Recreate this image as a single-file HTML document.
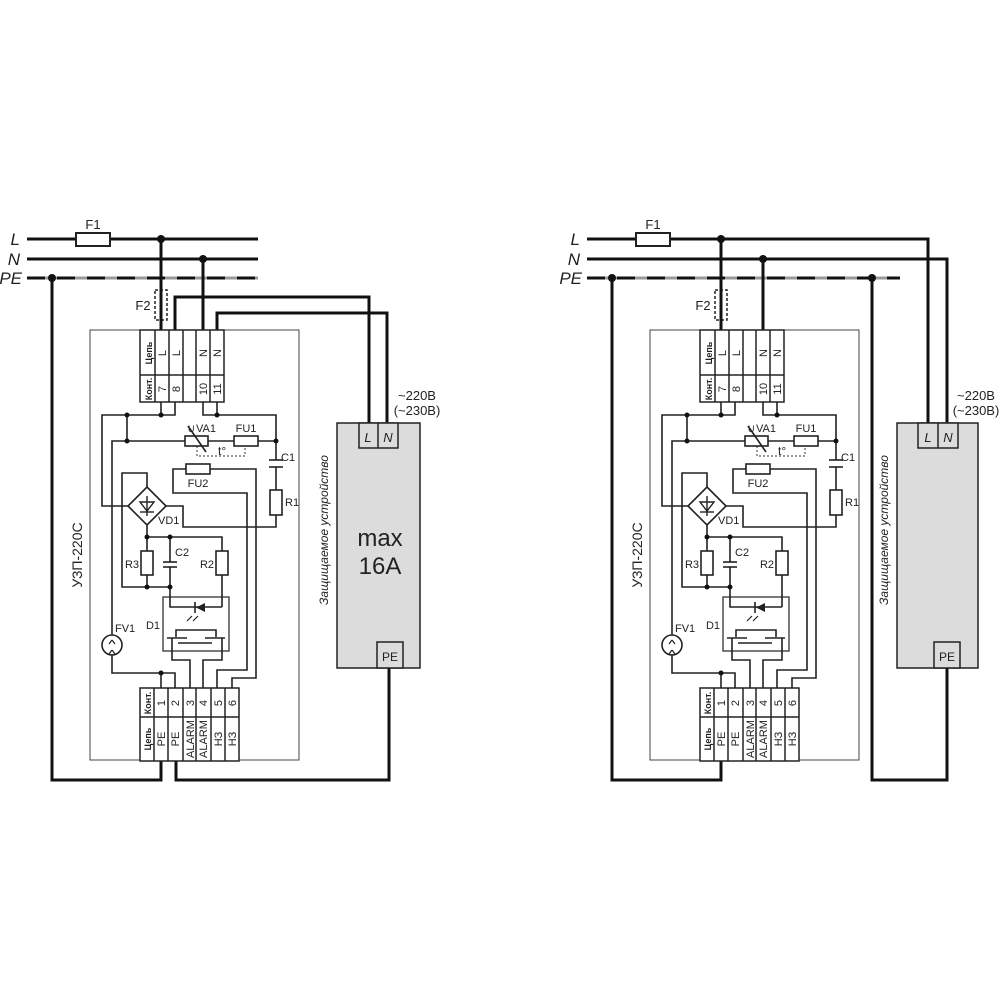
<!DOCTYPE html>
<html><head><meta charset="utf-8"><style>
html,body{margin:0;padding:0;background:#fff}
svg{display:block}
text{font-family:"Liberation Sans",sans-serif;fill:#222}
</style></head><body>
<svg width="1000" height="1000" viewBox="0 0 1000 1000" xmlns="http://www.w3.org/2000/svg">
<defs>
<g id="relay">
  <!-- F1 -->
  <rect x="76" y="233" width="34" height="13" fill="#fff" stroke="#222" stroke-width="2"/>
  <text x="93" y="229" font-size="13" text-anchor="middle">F1</text>
  <!-- F2 -->
  <rect x="155" y="290" width="12" height="30" fill="#fff" stroke="#222" stroke-width="1.5" stroke-dasharray="3,2"/>
  <line x1="161" y1="239" x2="161" y2="330" stroke="#111" stroke-width="3"/>
  <line x1="203" y1="259" x2="203" y2="330" stroke="#111" stroke-width="3"/>
  <circle cx="161" cy="239" r="4" fill="#111"/>
  <circle cx="203" cy="259" r="4" fill="#111"/>
  <text x="143" y="310" font-size="13" text-anchor="middle">F2</text>
  <!-- relay box -->
  <rect x="90" y="330" width="209" height="430" fill="none" stroke="#444" stroke-width="1"/>
  <text transform="translate(82,555) rotate(-90)" font-size="14" text-anchor="middle">УЗП-220С</text>
  <!-- top terminal block -->
  <g fill="none" stroke="#222" stroke-width="1.5">
    <rect x="140" y="330" width="84" height="72" fill="#fff"/>
    <line x1="140" y1="375" x2="224" y2="375"/>
    <line x1="155" y1="330" x2="155" y2="402"/>
    <line x1="169" y1="330" x2="169" y2="402"/>
    <line x1="183" y1="330" x2="183" y2="402"/>
    <line x1="196" y1="330" x2="196" y2="402"/>
    <line x1="210" y1="330" x2="210" y2="402"/>
  </g>
  <g font-size="11">
    <text transform="translate(152,353) rotate(-90)" text-anchor="middle" font-size="9" font-weight="bold">Цепь</text>
    <text transform="translate(152,389) rotate(-90)" text-anchor="middle" font-size="9" font-weight="bold">Конт.</text>
    <text transform="translate(166,353) rotate(-90)" text-anchor="middle">L</text>
    <text transform="translate(180,353) rotate(-90)" text-anchor="middle">L</text>
    <text transform="translate(207,353) rotate(-90)" text-anchor="middle">N</text>
    <text transform="translate(221,353) rotate(-90)" text-anchor="middle">N</text>
    <text transform="translate(166,389) rotate(-90)" text-anchor="middle">7</text>
    <text transform="translate(180,389) rotate(-90)" text-anchor="middle">8</text>
    <text transform="translate(207,389) rotate(-90)" text-anchor="middle">10</text>
    <text transform="translate(221,389) rotate(-90)" text-anchor="middle">11</text>
  </g>
  <!-- bottom terminal block -->
  <g fill="none" stroke="#222" stroke-width="1.5">
    <rect x="140" y="688" width="99" height="73" fill="#fff"/>
    <line x1="140" y1="717" x2="239" y2="717"/>
    <line x1="154" y1="688" x2="154" y2="761"/>
    <line x1="168" y1="688" x2="168" y2="761"/>
    <line x1="183" y1="688" x2="183" y2="761"/>
    <line x1="196" y1="688" x2="196" y2="761"/>
    <line x1="211" y1="688" x2="211" y2="761"/>
    <line x1="225" y1="688" x2="225" y2="761"/>
  </g>
  <g font-size="11">
    <text transform="translate(151,703) rotate(-90)" text-anchor="middle" font-size="9" font-weight="bold">Конт.</text>
    <text transform="translate(151,739) rotate(-90)" text-anchor="middle" font-size="9" font-weight="bold">Цепь</text>
    <text transform="translate(165,703) rotate(-90)" text-anchor="middle">1</text>
    <text transform="translate(179,703) rotate(-90)" text-anchor="middle">2</text>
    <text transform="translate(194,703) rotate(-90)" text-anchor="middle">3</text>
    <text transform="translate(207,703) rotate(-90)" text-anchor="middle">4</text>
    <text transform="translate(222,703) rotate(-90)" text-anchor="middle">5</text>
    <text transform="translate(236,703) rotate(-90)" text-anchor="middle">6</text>
    <text transform="translate(165,739) rotate(-90)" text-anchor="middle">PE</text>
    <text transform="translate(179,739) rotate(-90)" text-anchor="middle">PE</text>
    <text transform="translate(194,739) rotate(-90)" text-anchor="middle">ALARM</text>
    <text transform="translate(207,739) rotate(-90)" text-anchor="middle">ALARM</text>
    <text transform="translate(222,739) rotate(-90)" text-anchor="middle">НЗ</text>
    <text transform="translate(236,739) rotate(-90)" text-anchor="middle">НЗ</text>
  </g>
  <!-- inner circuit -->
  <g fill="none" stroke="#222" stroke-width="1.6">
    <polyline points="161,402 161,415"/>
    <polyline points="175,402 175,415 161,415"/>
    <polyline points="203,402 203,415 276,415 276,460"/>
    <polyline points="217,402 217,415"/>
    <polyline points="161,415 102,415 102,506 128,506"/>
    <polyline points="127,415 127,441"/>
    <polyline points="112,635 112,441 185,441"/>
    <rect x="185" y="436" width="23" height="10"/>
    <line x1="188" y1="426" x2="206" y2="452"/>
    <polyline points="208,441 234,441"/>
    <rect x="234" y="436" width="24" height="10"/>
    <polyline points="258,441 276,441"/>
    <line x1="269" y1="460" x2="283" y2="460"/>
    <line x1="269" y1="467" x2="283" y2="467"/>
    <polyline points="276,467 276,490"/>
    <rect x="270" y="490" width="12" height="25"/>
    <polyline points="276,515 276,527 183,527 183,506 166,506"/>
    <!-- VD1 -->
    <polygon points="147,487 166,506 147,525 128,506"/>
    <polyline points="147,487 147,473 122,473 122,587 170,587"/>
    <polyline points="147,525 147,537 222,537 222,551"/>
    <polyline points="147,537 147,551"/>
    <rect x="141" y="551" width="12" height="24"/>
    <polyline points="147,575 147,587"/>
    <polyline points="170,537 170,562"/>
    <line x1="163" y1="562" x2="177" y2="562"/>
    <line x1="163" y1="567" x2="177" y2="567"/>
    <polyline points="170,567 170,607 222,607"/>
    <rect x="216" y="551" width="12" height="24"/>
    <polyline points="222,575 222,607"/>
    <!-- FU2 -->
    <rect x="186" y="464" width="24" height="10"/>
    <polyline points="186,469 173,469 173,493 247,493 247,670 217,670 217,688"/>
    <polyline points="210,469 256,469 256,678 232,678 232,688"/>
    <!-- D1 -->
    <rect x="163" y="597" width="66" height="54" stroke-width="1.2"/>
    <polyline points="172,651 172,660 190,660 190,688"/>
    <polyline points="222,651 222,660 203,660 203,688"/>
    <polyline points="112,655 112,673 175,673 175,688"/>
    <polyline points="161,673 161,688"/>
    <!-- FV1 -->
    <circle cx="112" cy="645" r="10"/>
    <!-- mosfets -->
    <polyline points="176,637 176,630 216,630 216,637"/>
    <line x1="167" y1="638" x2="187" y2="638"/>
    <line x1="205" y1="638" x2="225" y2="638"/>
    <polyline points="172,638 172,651"/>
    <polyline points="222,638 222,651"/>
    <polyline points="178,643 212,643"/>
  </g>
  <polygon points="205,603 205,612 196,607.5" fill="#222"/>
  <line x1="195" y1="602" x2="195" y2="613" stroke="#222" stroke-width="1.6"/>
  <polygon points="140,502 154,502 147,511" fill="#fff" stroke="#222" stroke-width="1.4"/>
  <line x1="140" y1="512" x2="154" y2="512" stroke="#222" stroke-width="1.4"/>
  <line x1="147" y1="496" x2="147" y2="516" stroke="#222" stroke-width="1.4"/>
  <path d="M192 616 l-5 5 M198 616 l-5 5" stroke="#222" stroke-width="1.2"/>
  <path d="M112 640 l-3 4 M112 640 l3 4 M112 650 l-3 4 M112 650 l3 4" stroke="#222" stroke-width="1.2" fill="none"/>
  <polyline points="197,446 197,456 245,456 245,446" fill="none" stroke="#333" stroke-width="1" stroke-dasharray="2,2"/>
  <g fill="#111">
    <circle cx="161" cy="415" r="2.5"/><circle cx="127" cy="415" r="2.5"/><circle cx="217" cy="415" r="2.5"/>
    <circle cx="127" cy="441" r="2.5"/><circle cx="276" cy="441" r="2.5"/>
    <circle cx="147" cy="537" r="2.5"/><circle cx="170" cy="537" r="2.5"/>
    <circle cx="147" cy="587" r="2.5"/><circle cx="170" cy="587" r="2.5"/>
    <circle cx="161" cy="673" r="2.5"/>
  </g>
  <g font-size="11">
    <text x="188" y="432" font-size="9">U</text>
    <text x="196" y="432">VA1</text>
    <text x="246" y="432" text-anchor="middle">FU1</text>
    <text x="218" y="455" font-size="12">t°</text>
    <text x="281" y="461">C1</text>
    <text x="285" y="506">R1</text>
    <text x="198" y="487" text-anchor="middle">FU2</text>
    <text x="158" y="524">VD1</text>
    <text x="139" y="568" text-anchor="end">R3</text>
    <text x="175" y="556">C2</text>
    <text x="214" y="568" text-anchor="end">R2</text>
    <text x="160" y="629" text-anchor="end">D1</text>
    <text x="115" y="632">FV1</text>
  </g>
</g>
</defs>

<!-- LEFT -->
<g stroke="#111" stroke-width="3" fill="none">
  <line x1="27" y1="239" x2="258" y2="239"/>
  <line x1="27" y1="259" x2="258" y2="259"/>
  <line x1="27" y1="278" x2="258" y2="278" stroke="#999"/>
  <line x1="27" y1="278" x2="258" y2="278" stroke-dasharray="18,12"/>
  <polyline points="52,278 52,780 161,780 161,761"/>
  <polyline points="176,761 176,780 389,780 389,668"/>
  <polyline points="175,330 175,297 369,297 369,423"/>
  <polyline points="217,330 217,313 387,313 387,423"/>
</g>
<circle cx="52" cy="278" r="4" fill="#111"/>
<use href="#relay"/>
<text x="20" y="245" font-size="17" font-style="italic" text-anchor="end">L</text>
<text x="20" y="265" font-size="17" font-style="italic" text-anchor="end">N</text>
<text x="22" y="284" font-size="17" font-style="italic" text-anchor="end">PE</text>
<rect x="337" y="423" width="83" height="245" fill="#dcdcdc" stroke="#222" stroke-width="1.5"/>
<rect x="359" y="423" width="39" height="25" fill="#dcdcdc" stroke="#222" stroke-width="1.5"/>
<line x1="378" y1="423" x2="378" y2="448" stroke="#222" stroke-width="1.5"/>
<rect x="377" y="642" width="26" height="26" fill="#dcdcdc" stroke="#222" stroke-width="1.5"/>
<text x="368" y="442" font-size="13" font-style="italic" text-anchor="middle">L</text>
<text x="388" y="442" font-size="13" font-style="italic" text-anchor="middle">N</text>
<text x="390" y="661" font-size="12" text-anchor="middle">PE</text>
<text x="380" y="546" font-size="24" text-anchor="middle">max</text>
<text x="380" y="574" font-size="24" text-anchor="middle">16A</text>
<text transform="translate(328,530) rotate(-90)" font-size="12" font-style="italic" text-anchor="middle">Защищаемое устройство</text>
<text x="417" y="400" font-size="13" text-anchor="middle">~220В</text>
<text x="417" y="415" font-size="13" text-anchor="middle">(~230В)</text>

<!-- RIGHT -->
<g stroke="#111" stroke-width="3" fill="none">
  <polyline points="587,239 928,239 928,423"/>
  <polyline points="587,259 947,259 947,423"/>
  <line x1="587" y1="278" x2="900" y2="278" stroke="#999"/>
  <line x1="587" y1="278" x2="900" y2="278" stroke-dasharray="18,12"/>
  <polyline points="612,278 612,780 721,780 721,761"/>
  <polyline points="872,278 872,780 947,780 947,668"/>
</g>
<circle cx="612" cy="278" r="4" fill="#111"/>
<circle cx="872" cy="278" r="4" fill="#111"/>
<use href="#relay" transform="translate(560,0)"/>
<text x="580" y="245" font-size="17" font-style="italic" text-anchor="end">L</text>
<text x="580" y="265" font-size="17" font-style="italic" text-anchor="end">N</text>
<text x="582" y="284" font-size="17" font-style="italic" text-anchor="end">PE</text>
<rect x="897" y="423" width="81" height="245" fill="#dcdcdc" stroke="#222" stroke-width="1.5"/>
<rect x="918" y="423" width="40" height="25" fill="#dcdcdc" stroke="#222" stroke-width="1.5"/>
<line x1="938" y1="423" x2="938" y2="448" stroke="#222" stroke-width="1.5"/>
<rect x="934" y="642" width="26" height="26" fill="#dcdcdc" stroke="#222" stroke-width="1.5"/>
<text x="928" y="442" font-size="13" font-style="italic" text-anchor="middle">L</text>
<text x="948" y="442" font-size="13" font-style="italic" text-anchor="middle">N</text>
<text x="947" y="661" font-size="12" text-anchor="middle">PE</text>
<text transform="translate(888,530) rotate(-90)" font-size="12" font-style="italic" text-anchor="middle">Защищаемое устройство</text>
<text x="976" y="400" font-size="13" text-anchor="middle">~220В</text>
<text x="976" y="415" font-size="13" text-anchor="middle">(~230В)</text>
</svg>
</body></html>
